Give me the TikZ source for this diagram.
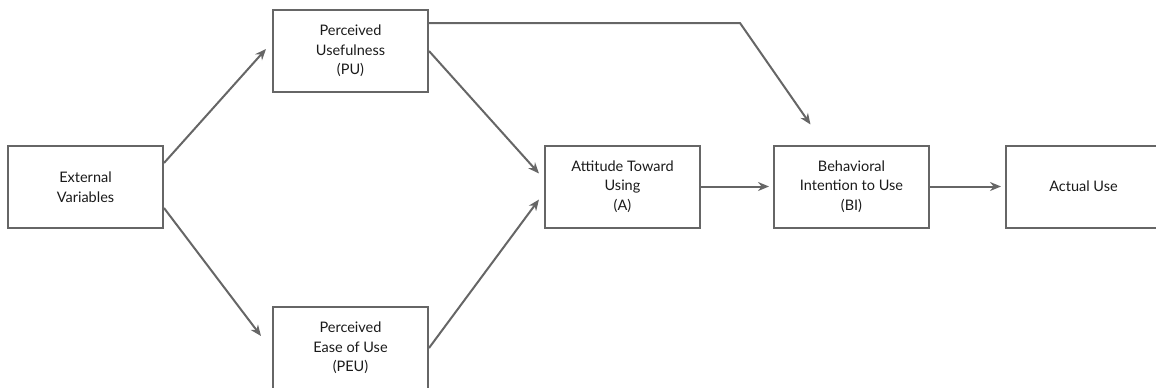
\documentclass[tikz,border=0pt]{standalone}
\usepackage{fontspec}
\setmainfont{Lato}
\usetikzlibrary{arrows.meta}
\definecolor{linegray}{HTML}{666666}
\definecolor{textgray}{HTML}{1A1A1A}
\begin{document}
\begin{tikzpicture}[x = 1pt, y = -1pt,
	box/.style = {draw = linegray, line width = 2pt, minimum width = 155pt, minimum height = 82pt, inner sep = 0pt, align = center, font = \fontsize{14.5}{19.5}\selectfont, text = textgray},
	arr/.style = {draw = linegray, line width = 2pt, -{Stealth[length = 11pt, width = 9pt]}}]
					\useasboundingbox (0, 0) rectangle (1156, 388);
					\node[box] (ev) at (85.5, 187) {External\\Variables};
					\node[box] (pu) at (350.5, 51) {Perceived\\Usefulness\\(PU)};
					\node[box] (peu) at (350.5, 348) {Perceived\\Ease of Use\\(PEU)};
					\node[box] (a) at (622.5, 186.5) {Attitude Toward\\Using\\(A)};
					\node[box] (bi) at (851.5, 186.5) {Behavioral\\Intention to Use\\(BI)};
					\node[box] (au) at (1083.5, 186.5) {Actual Use};
					\coordinate (bend) at (740, 23);
					\draw[arr] ([yshift = 24pt]ev.east) -- ([xshift = -6pt, yshift = 2pt]pu.west);
					\draw[arr] ([yshift = -21pt]ev.east) -- ([xshift = -11pt, yshift = 12pt]peu.west);
					\draw[arr] (pu.east) -- ([xshift = -5pt, yshift = 13pt]a.west);
					\draw[arr] (peu.east) -- ([xshift = -5pt, yshift = -13pt]a.west);
					\draw[arr] ([yshift = 28pt]pu.east) -- (bend) -- ([xshift = -41pt, yshift = 20pt]bi.north);
					\draw[arr] (a.east) -- ([xshift = -4pt]bi.west);
					\draw[arr] (bi.east) -- ([xshift = -4pt]au.west);
				\end{tikzpicture}
\end{document}
